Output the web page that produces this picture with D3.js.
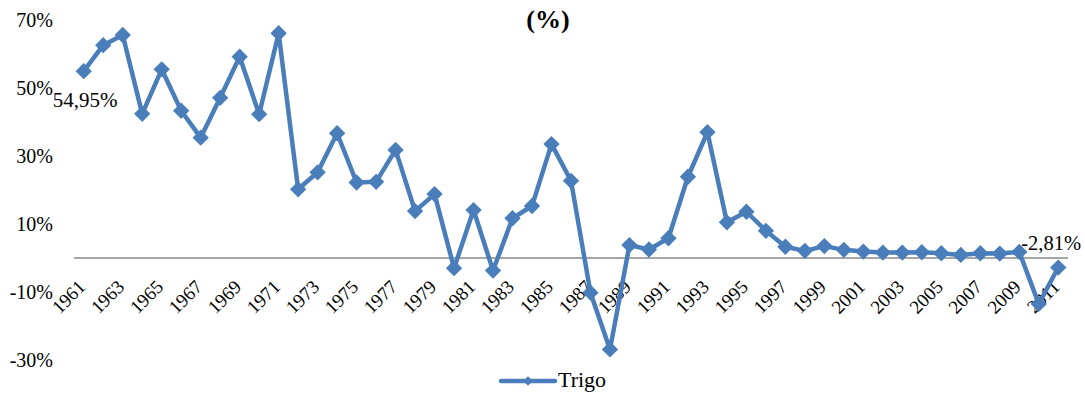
<!DOCTYPE html>
<html><head><meta charset="utf-8">
<script src="https://cdn.jsdelivr.net/npm/d3@7"></script>
</head><body style="margin:0;background:#fff">
<svg id="c" width="1085" height="394"></svg>
<script>
const years = d3.range(1961, 2012);
const values = [54.95,62.6,65.6,42.4,55.5,43.3,35.4,47.1,59.2,42.3,66.1,20.2,25.2,36.7,22.2,22.4,31.8,13.8,18.8,-3.0,14.1,-3.7,11.7,15.3,33.5,22.7,-10.2,-26.9,3.8,2.5,5.8,23.9,37.0,10.5,13.6,8.0,3.3,2.1,3.5,2.4,1.9,1.6,1.6,1.7,1.4,0.9,1.4,1.3,1.8,-13.5,-2.81];
const yTicks = [70,50,30,10,-10,-30];
const xLabels = years.filter((y,i)=>i%2===0);
const seriesName = "Trigo";
const title = "(%)";
const dataLabels = [{year:1961, text:"54,95%"},{year:2011, text:"-2,81%"}];

const FONT = "'Liberation Serif'";
const svg = d3.select("#c");
const color = "#4a7ebb";
const x = d3.scalePoint().domain(years).range([74,1068]).padding(0.5);
const y = d3.scaleLinear().domain([-30,70]).range([360,20]);

svg.append("text").attr("x",548).attr("y",28).attr("text-anchor","middle")
  .attr("font-weight","bold").attr("font-size",26).attr("font-family",FONT).text(title);

// y labels
svg.append("g").selectAll("text").data(yTicks).join("text")
  .attr("x",53).attr("y",d=>y(d)).attr("dy","0.35em").attr("text-anchor","end")
  .attr("font-size",20).attr("font-family",FONT).text(d=>d+"%");

// zero line
svg.append("line").attr("x1",74).attr("x2",1068).attr("y1",y(0)).attr("y2",y(0))
  .attr("stroke","#898989").attr("stroke-width",1.5);

// x labels
svg.append("g").selectAll("text").data(xLabels).join("text")
  .attr("transform",d=>`translate(${x(d)+2.8},${y(0)+30}) rotate(-45)`)
  .attr("text-anchor","end").attr("font-size",19).attr("font-family",FONT).text(d=>d);

const pts = years.map((yr,i)=>({yr, v:values[i]}));
svg.append("path").datum(pts)
  .attr("d", d3.line().x(d=>x(d.yr)).y(d=>y(d.v)))
  .attr("fill","none").attr("stroke",color).attr("stroke-width",4.5).attr("stroke-linejoin","round");

const sym = d3.symbol().type(d3.symbolDiamond2).size(170);
svg.append("g").selectAll("path").data(pts).join("path")
  .attr("transform",d=>`translate(${x(d.yr)},${y(d.v)})`)
  .attr("d",sym).attr("fill",color);

// data labels
const lbl = svg.append("g");
lbl.append("text").attr("x",x(1961)-31).attr("y",107).attr("font-size",21).attr("font-family",FONT).text(dataLabels[0].text);
lbl.append("text").attr("x",1081).attr("y",250).attr("text-anchor","end").attr("font-size",20.5).attr("font-family",FONT).text(dataLabels[1].text);

// legend
const lg = svg.append("g");
lg.append("line").attr("x1",501).attr("x2",555).attr("y1",381).attr("y2",381)
  .attr("stroke",color).attr("stroke-width",4.5).attr("stroke-linecap","round");
lg.append("path").attr("transform","translate(528,381)").attr("d",d3.symbol().type(d3.symbolDiamond2).size(60)).attr("fill",color);
lg.append("text").attr("x",558).attr("y",387).attr("font-size",22).attr("font-family",FONT).text(seriesName);
</script>
</body></html>
